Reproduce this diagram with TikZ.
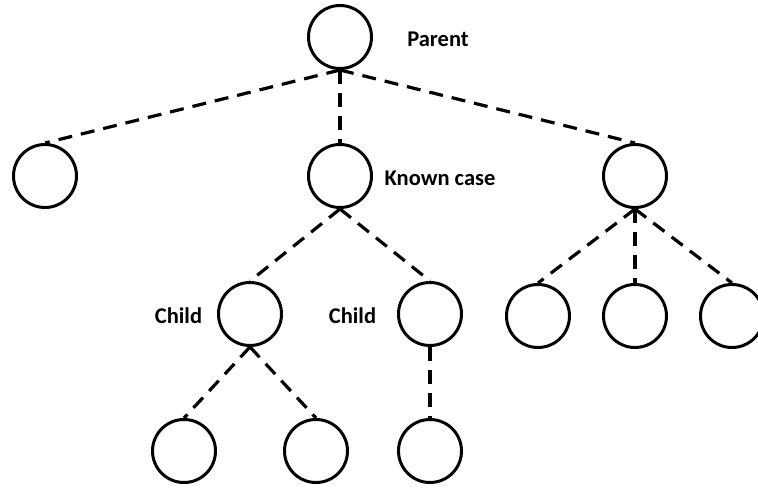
\documentclass[tikz,border=0pt]{standalone}
\usepackage{fontspec}
\setmainfont{Carlito}
\begin{document}
\begin{tikzpicture}[x=1pt,y=-1pt,
  nd/.style={circle,draw,line width=3pt,minimum size=63pt,inner sep=0pt},
  lk/.style={line width=3.2pt,dash pattern=on 14pt off 9pt},
  lbl/.style={font=\bfseries\fontsize{22.5}{26}\selectfont,inner sep=0pt}]
\useasboundingbox (0,0) rectangle (758,489);
\node[nd] (p) at (340,37) {};
\node[nd] (l) at (45,176) {};
\node[nd] (k) at (340,176) {};
\node[nd] (r) at (635,176) {};
\node[nd] (c1) at (250,314) {};
\node[nd] (c2) at (430,314) {};
\node[nd] (r1) at (538,316) {};
\node[nd] (r2) at (635,316) {};
\node[nd] (r3) at (732,316) {};
\node[nd] (b1) at (184,451) {};
\node[nd] (b2) at (316,451) {};
\node[nd] (b3) at (430,451) {};
\node[lbl] (tp) at (438,39) {Parent};
\node[lbl] (tk) at (440,178) {Known case};
\node[lbl] (tc1) at (178.5,316) {Child};
\node[lbl] (tc2) at (352.5,316) {Child};
\draw[lk] (p.south) -- (l.north);
\draw[lk] (p.south) -- (k.north);
\draw[lk] (p.south) -- (r.north);
\draw[lk] (k.south) -- (c1.north);
\draw[lk] (k.south) -- (c2.north);
\draw[lk] (r.south) -- (r1.north);
\draw[lk] (r.south) -- (r2.north);
\draw[lk] (r.south) -- (r3.north);
\draw[lk] (c1.south) -- (b1.north);
\draw[lk] (c1.south) -- (b2.north);
\draw[lk] (c2.south) -- (b3.north);
\end{tikzpicture}
\end{document}
